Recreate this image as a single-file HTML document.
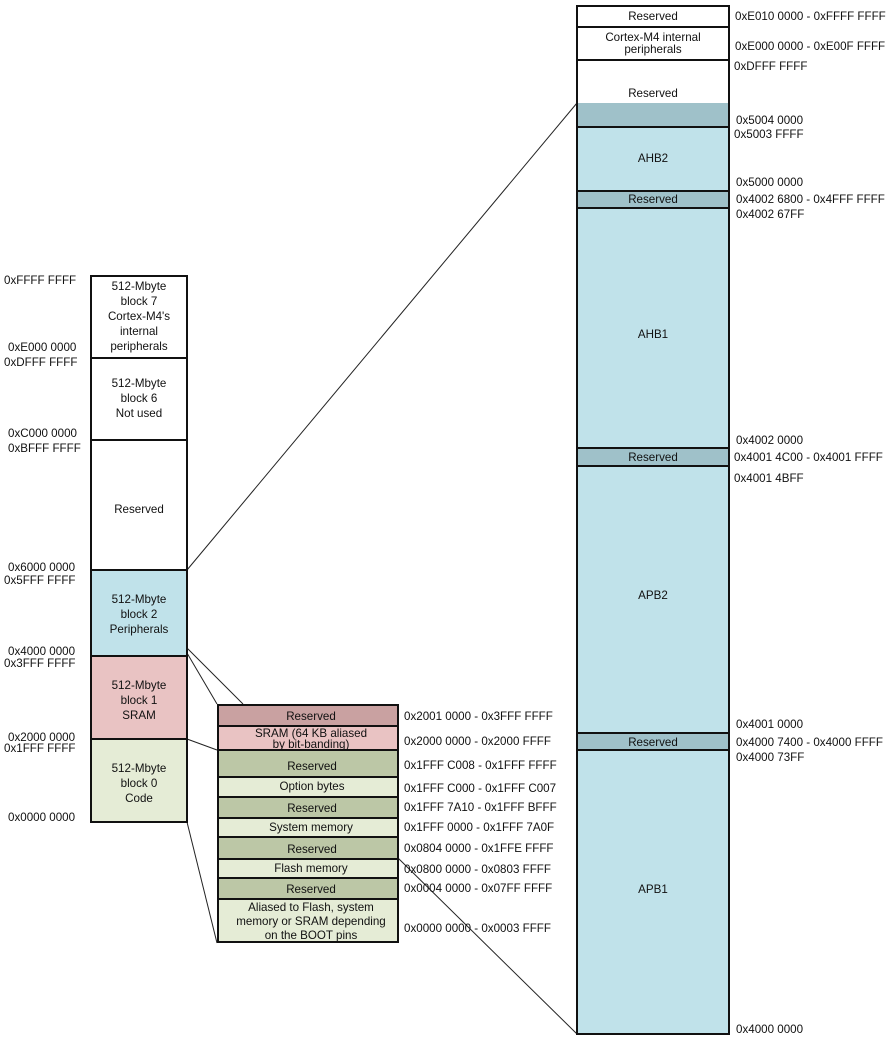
<!DOCTYPE html>
<html><head><meta charset="utf-8"><style>
html,body{margin:0;padding:0;background:#fff;}
svg{display:block;}
text{font-family:"Liberation Sans",Arial,sans-serif;font-size:11.6px;fill:#111;}
.c{text-anchor:middle;}
</style></head><body>
<svg width="894" height="1041" viewBox="0 0 894 1041" xmlns="http://www.w3.org/2000/svg">
<g stroke="#222" stroke-width="1">
<line x1="187" y1="570" x2="577" y2="103"/>
<line x1="187" y1="653" x2="217" y2="704"/>
<line x1="187" y1="648" x2="243" y2="704"/>
<line x1="187" y1="739" x2="217" y2="750"/>
<line x1="187" y1="822" x2="217" y2="943"/>
<line x1="398" y1="858" x2="577" y2="1034"/>
</g>
<g stroke="#111" stroke-width="2">
<rect x="91" y="276" width="96" height="82" fill="#fff"/>
<rect x="91" y="358" width="96" height="82" fill="#fff"/>
<rect x="91" y="440" width="96" height="130" fill="#fff"/>
<rect x="91" y="570" width="96" height="86" fill="#c0e2ea"/>
<rect x="91" y="656" width="96" height="83" fill="#e9c3c3"/>
<rect x="91" y="739" width="96" height="83" fill="#e5ecd6"/>
</g>
<text class="c" x="139" y="290">512-Mbyte</text>
<text class="c" x="139" y="305">block 7</text>
<text class="c" x="139" y="320">Cortex-M4's</text>
<text class="c" x="139" y="335">internal</text>
<text class="c" x="139" y="350">peripherals</text>
<text class="c" x="139" y="387">512-Mbyte</text>
<text class="c" x="139" y="402">block 6</text>
<text class="c" x="139" y="417">Not used</text>
<text class="c" x="139" y="513">Reserved</text>
<text class="c" x="139" y="603">512-Mbyte</text>
<text class="c" x="139" y="618">block 2</text>
<text class="c" x="139" y="633">Peripherals</text>
<text class="c" x="139" y="689">512-Mbyte</text>
<text class="c" x="139" y="704">block 1</text>
<text class="c" x="139" y="719">SRAM</text>
<text class="c" x="139" y="772">512-Mbyte</text>
<text class="c" x="139" y="787">block 0</text>
<text class="c" x="139" y="802">Code</text>
<text x="4" y="284">0xFFFF FFFF</text>
<text x="8" y="351">0xE000 0000</text>
<text x="4" y="366">0xDFFF FFFF</text>
<text x="8" y="437">0xC000 0000</text>
<text x="8" y="452">0xBFFF FFFF</text>
<text x="8" y="571">0x6000 0000</text>
<text x="4" y="584">0x5FFF FFFF</text>
<text x="8" y="655">0x4000 0000</text>
<text x="4" y="667">0x3FFF FFFF</text>
<text x="8" y="741">0x2000 0000</text>
<text x="4" y="752">0x1FFF FFFF</text>
<text x="8" y="821">0x0000 0000</text>
<g stroke="#111" stroke-width="2">
<rect x="218" y="705" width="180" height="21" fill="#c9a1a1"/>
<rect x="218" y="726" width="180" height="24" fill="#e9c3c3"/>
<rect x="218" y="750" width="180" height="27" fill="#bcc7a6"/>
<rect x="218" y="777" width="180" height="20" fill="#e5ecd6"/>
<rect x="218" y="797" width="180" height="21" fill="#bcc7a6"/>
<rect x="218" y="818" width="180" height="19" fill="#e5ecd6"/>
<rect x="218" y="837" width="180" height="22" fill="#bcc7a6"/>
<rect x="218" y="859" width="180" height="19" fill="#e5ecd6"/>
<rect x="218" y="878" width="180" height="21" fill="#bcc7a6"/>
<rect x="218" y="899" width="180" height="43" fill="#e5ecd6"/>
</g>
<text class="c" x="311" y="720">Reserved</text>
<text class="c" x="311" y="737">SRAM (64 KB aliased</text>
<text class="c" x="311" y="748">by bit-banding)</text>
<text class="c" x="312" y="770">Reserved</text>
<text class="c" x="312" y="790">Option bytes</text>
<text class="c" x="312" y="812">Reserved</text>
<text class="c" x="311" y="831">System memory</text>
<text class="c" x="312" y="853">Reserved</text>
<text class="c" x="311" y="872">Flash memory</text>
<text class="c" x="311" y="893">Reserved</text>
<text class="c" x="311" y="911">Aliased to Flash, system</text>
<text class="c" x="311" y="925">memory or SRAM depending</text>
<text class="c" x="311" y="939">on the BOOT pins</text>
<text x="404" y="720">0x2001 0000 - 0x3FFF FFFF</text>
<text x="404" y="745">0x2000 0000 - 0x2000 FFFF</text>
<text x="404" y="769">0x1FFF C008 - 0x1FFF FFFF</text>
<text x="404" y="792">0x1FFF C000 - 0x1FFF C007</text>
<text x="404" y="811">0x1FFF 7A10 - 0x1FFF BFFF</text>
<text x="404" y="831">0x1FFF 0000 - 0x1FFF 7A0F</text>
<text x="404" y="852">0x0804 0000 - 0x1FFE FFFF</text>
<text x="404" y="873">0x0800 0000 - 0x0803 FFFF</text>
<text x="404" y="892">0x0004 0000 - 0x07FF FFFF</text>
<text x="404" y="932">0x0000 0000 - 0x0003 FFFF</text>
<rect x="577" y="103" width="152" height="24" fill="#9fc1c9"/>
<g stroke="#111" stroke-width="2">
<rect x="577" y="6" width="152" height="21" fill="#fff"/>
<rect x="577" y="27" width="152" height="33" fill="#fff"/>
<rect x="577" y="60" width="152" height="67" fill="none"/>
<rect x="577" y="127" width="152" height="64" fill="#c0e2ea"/>
<rect x="577" y="191" width="152" height="17" fill="#9fc1c9"/>
<rect x="577" y="208" width="152" height="240" fill="#c0e2ea"/>
<rect x="577" y="448" width="152" height="18" fill="#9fc1c9"/>
<rect x="577" y="466" width="152" height="267" fill="#c0e2ea"/>
<rect x="577" y="733" width="152" height="17" fill="#9fc1c9"/>
<rect x="577" y="750" width="152" height="284" fill="#c0e2ea"/>
</g>
<text class="c" x="653" y="20">Reserved</text>
<text class="c" x="653" y="41">Cortex-M4 internal</text>
<text class="c" x="653" y="53">peripherals</text>
<text class="c" x="653" y="97">Reserved</text>
<text class="c" x="653" y="162">AHB2</text>
<text class="c" x="653" y="203">Reserved</text>
<text class="c" x="653" y="338">AHB1</text>
<text class="c" x="653" y="461">Reserved</text>
<text class="c" x="653" y="599">APB2</text>
<text class="c" x="653" y="746">Reserved</text>
<text class="c" x="653" y="893">APB1</text>
<text x="735" y="20">0xE010 0000 - 0xFFFF FFFF</text>
<text x="735" y="50">0xE000 0000 - 0xE00F FFFF</text>
<text x="734" y="70">0xDFFF FFFF</text>
<text x="736" y="124">0x5004 0000</text>
<text x="734" y="138">0x5003 FFFF</text>
<text x="736" y="186">0x5000 0000</text>
<text x="736" y="203">0x4002 6800 - 0x4FFF FFFF</text>
<text x="736" y="218">0x4002 67FF</text>
<text x="736" y="444">0x4002 0000</text>
<text x="734" y="461">0x4001 4C00 - 0x4001 FFFF</text>
<text x="734" y="482">0x4001 4BFF</text>
<text x="736" y="728">0x4001 0000</text>
<text x="736" y="746">0x4000 7400 - 0x4000 FFFF</text>
<text x="736" y="761">0x4000 73FF</text>
<text x="736" y="1033">0x4000 0000</text>
</svg>
</body></html>
